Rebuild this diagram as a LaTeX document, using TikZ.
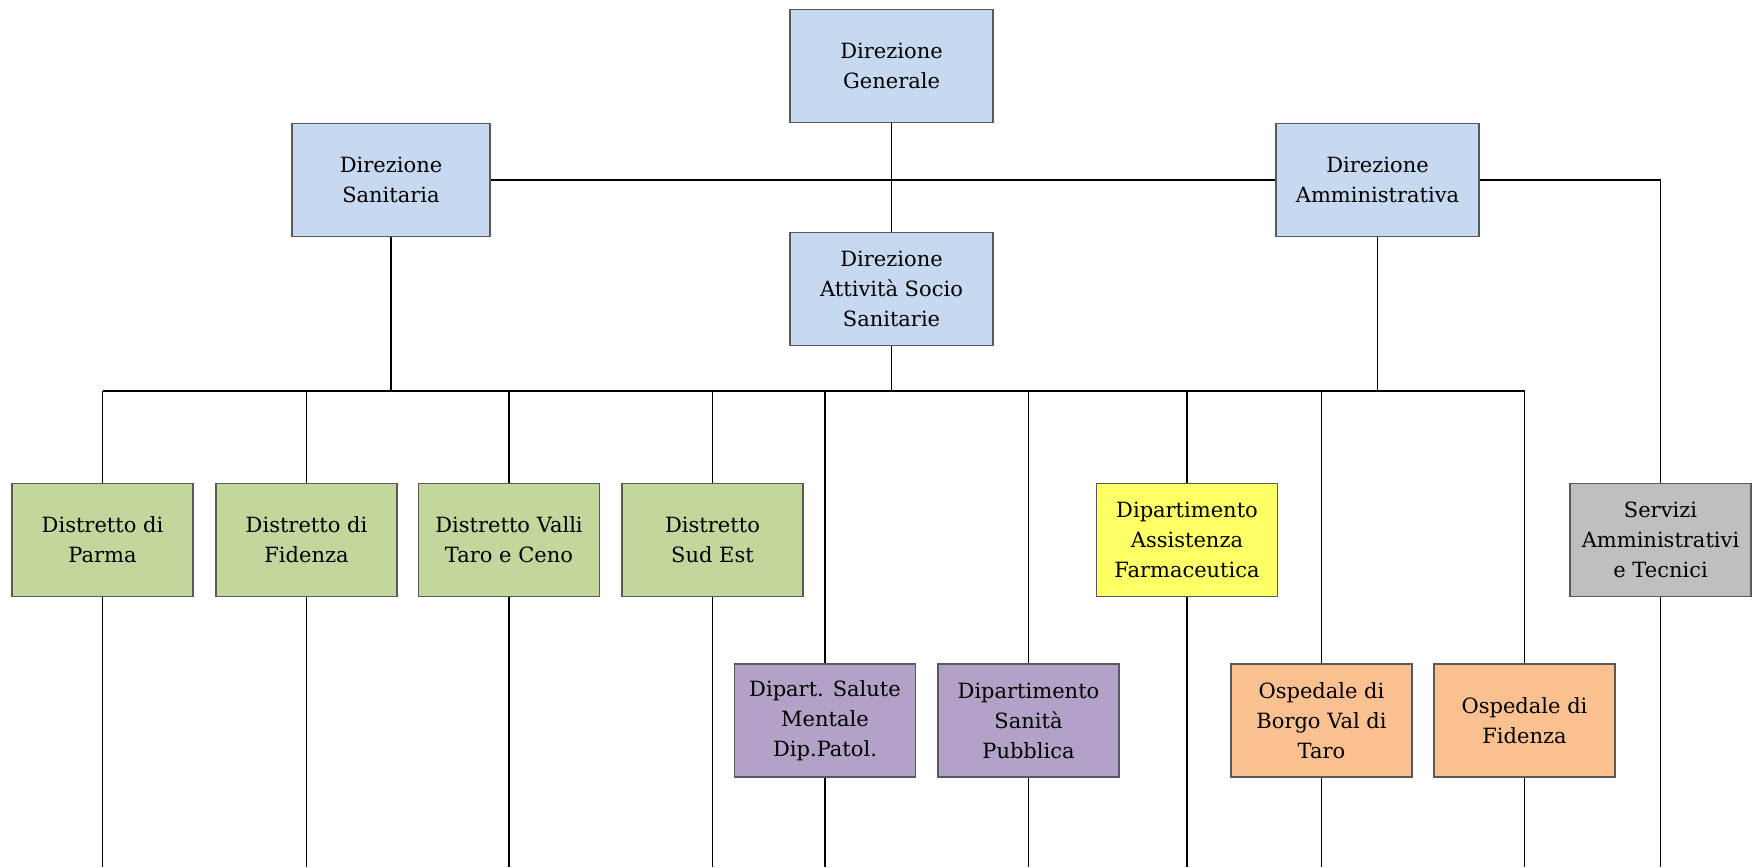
\documentclass[tikz,border=0pt]{standalone}
\usepackage{fontspec}
\setmainfont{DejaVu Serif}
\usetikzlibrary{calc}

\definecolor{DirBlue}{HTML}{C6D9F1}
\definecolor{DisGreen}{HTML}{C3D69B}
\definecolor{DipPurple}{HTML}{B3A2C7}
\definecolor{FarYellow}{HTML}{FFFF66}
\definecolor{OspOrange}{HTML}{FAC090}
\definecolor{SerGray}{HTML}{BFBFBF}

\begin{document}
\begin{tikzpicture}
	[x=0.5pt, y=-0.5pt,			%1 unit = 1 pixel of the reference, y going down
	 OrgBox/.style={draw=black!65, line width=0.8pt, minimum width=90.5pt, minimum height=56.5pt, inner sep=1pt, align=center, font=\fontsize{10.5}{15}\selectfont},
	 DirBox/.style={OrgBox, fill=DirBlue, minimum width=101.5pt},
	 DisBox/.style={OrgBox, fill=DisGreen},
	 DipBox/.style={OrgBox, fill=DipPurple},
	 FarBox/.style={OrgBox, fill=FarYellow},
	 OspBox/.style={OrgBox, fill=OspOrange},
	 SerBox/.style={OrgBox, fill=SerGray},
	 Link/.style={line width=0.9pt}
	]
	
	\useasboundingbox (0,0) rectangle (1760,867);
	
	\def\RowA{540};			%centre line of the upper row of units
	\def\RowB{720.5};		%centre line of the lower row of units
	
	\coordinate (bus) at (0,391);		%height of the common line
	\coordinate (foot) at (0,867);		%lines run out at the lower edge
	
	%Direzioni
	\node[DirBox] (gen) at (891.5,66) {Direzione\\Generale};
	\node[DirBox, minimum width=99pt] (san) at (391,180) {Direzione\\Sanitaria};
	\node[DirBox] (amm) at (1377.5,180) {Direzione\\Amministrativa};
	\node[DirBox] (ass) at (891.5,289) {Direzione\\Attività Socio\\Sanitarie};
	
	%Units
	\node[DisBox] (parma) at (102.5,\RowA) {Distretto di\\Parma};
	\node[DisBox] (fidenza) at (306.5,\RowA) {Distretto di\\Fidenza};
	\node[DisBox] (valli) at (509,\RowA) {Distretto Valli\\Taro e Ceno};
	\node[DisBox] (sudest) at (712.5,\RowA) {Distretto\\Sud Est};
	\node[DipBox] (mentale) at (825,\RowB) {Dipart. Salute\\Mentale\\Dip.Patol.};
	\node[DipBox] (pubblica) at (1028.5,\RowB) {Dipartimento\\Sanità\\Pubblica};
	\node[FarBox] (farma) at (1187,\RowA) {Dipartimento\\Assistenza\\Farmaceutica};
	\node[OspBox] (borgo) at (1321.5,\RowB) {Ospedale di\\Borgo Val di\\Taro};
	\node[OspBox] (ospfid) at (1524.5,\RowB) {Ospedale di\\Fidenza};
	\node[SerBox] (servizi) at (1660.5,\RowA) {Servizi\\Amministrativi\\e Tecnici};
	
	%Links between the Direzioni
	\draw[Link] (gen.south) -- (ass.north);
	\draw[Link] (san.east) -- (amm.west);
	\draw[Link] (amm.east) -| (servizi.north);
	\draw[Link] (san.south) -- (san.south |- bus);
	\draw[Link] (ass.south) -- (ass.south |- bus);
	\draw[Link] (amm.south) -- (amm.south |- bus);
	\draw[Link] (parma.north |- bus) -- (ospfid.north |- bus);		%common line
	
	%Drops to the units and lines below them
	\foreach \u in {parma, fidenza, valli, sudest, mentale, pubblica, farma, borgo, ospfid}
		\draw[Link] (\u.north |- bus) -- (\u.north);
	\foreach \u in {parma, fidenza, valli, sudest, mentale, pubblica, farma, borgo, ospfid, servizi}
		\draw[Link] (\u.south) -- (\u.south |- foot);
	
\end{tikzpicture}
\end{document}
